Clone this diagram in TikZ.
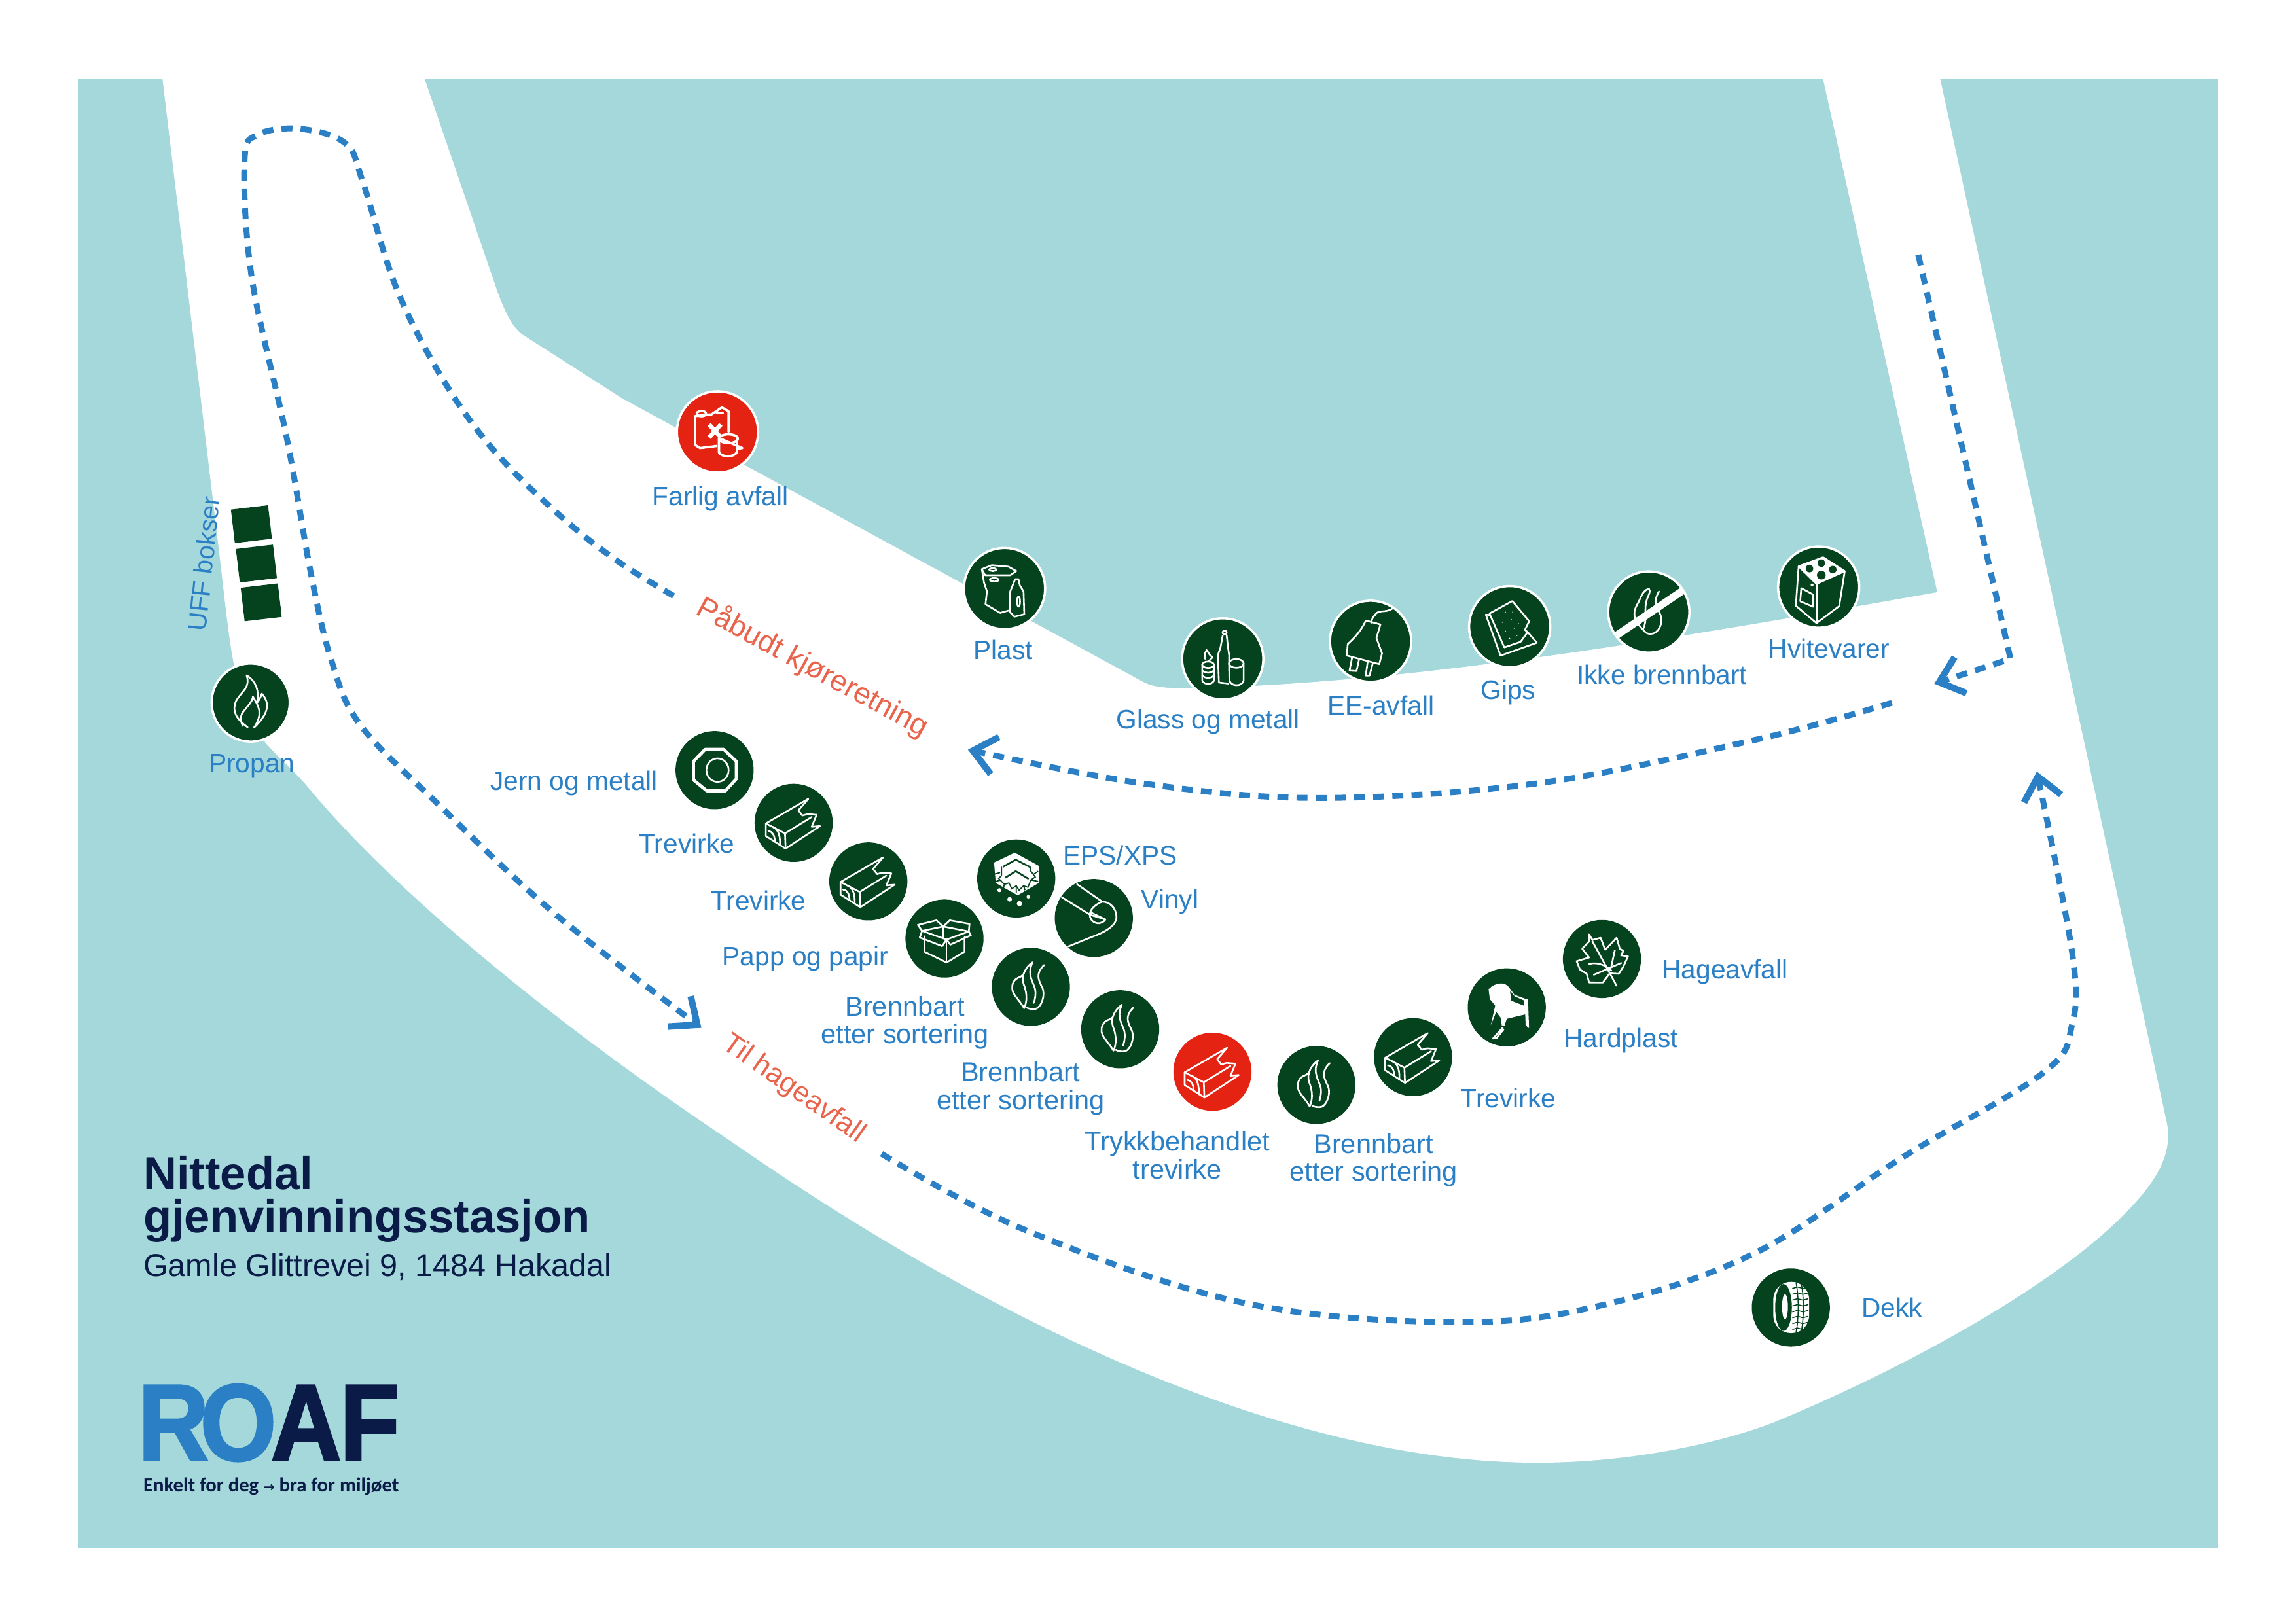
\documentclass[tikz,border=0pt]{standalone}
\usepackage{fontspec}
\setmainfont{Liberation Sans}
\newfontfamily\tagfont{Carlito}
\newfontfamily\arrowfont{DejaVu Sans}
\newfontfamily\logofont[FakeBold=2,FakeStretch=0.9]{Liberation Sans Bold}
\usetikzlibrary{arrows.meta,positioning}
\definecolor{myteal}{HTML}{A5D8DB}
\definecolor{mygreen}{HTML}{04431D}
\definecolor{myred}{HTML}{E52313}
\definecolor{myblue}{HTML}{2A7FC5}
\definecolor{mynavy}{HTML}{0B1B47}
\definecolor{mycoral}{HTML}{E8644C}
\tikzset{
    wastedot/.style={circle, fill=mygreen, minimum size=10.1mm, inner sep=0pt},
    hazdot/.style={wastedot, fill=myred},
    ringed/.style={draw=white, line width=0.3mm, minimum size=10.5mm},
    uffbox/.style={rectangle, fill=mygreen, minimum width=4.83mm, minimum height=4.36mm, inner sep=0pt, rotate=6.7},
    wastetwo/.style={text=myblue, font=\fontsize{10}{10.2}\selectfont, align=center, inner sep=0pt},
    wastelabel/.style={wastetwo, font=\fontsize{9.8}{10.2}\selectfont, text height=7pt, text depth=0pt},
    signtext/.style={text=mycoral, inner sep=0pt},
    route/.style={myblue, line width=0.76mm, dash pattern=on 1.42mm off 1.06mm,
        -{Straight Barb[length=2.9mm,width=4.9mm,line width=0.85mm]}},
    iconline/.style={white, line width=0.22mm, line join=round, line cap=round},
    pics/flames/.style={code={
        \draw[iconline] (-4.6,14.6) .. controls (-9,7) and (-15,4) .. (-12,-3) .. controls (-10,-7) and (-7,-6) .. (-5.7,-8);
        \draw[iconline] (-4.6,14.6) .. controls (-2,9) and (-3,3) .. (-5,-2) .. controls (-7,-8) and (-3,-14) .. (1.1,-16.7);
        \draw[iconline] (1.1,-16.7) .. controls (-2,-10) and (0,-6) .. (2,-1) .. controls (4,3) and (3,8) .. (2,11);
        \draw[iconline] (9.1,-14.9) .. controls (3,-9) and (5,-5) .. (8,1) .. controls (10,6) and (7,14) .. (3.4,15) .. controls (1,15.4) and (-2,15) .. (-3,14);
    }},
    pics/fire/.style={code={
        \draw[iconline] (-2,17) .. controls (-10,11) and (-13,6) .. (-10,-1) .. controls (-6,-8) and (0,-10) .. (-2.8,-18.6) .. controls (3,-15) and (6,-9) .. (4.5,0) .. controls (6,-2) and (7,-4) .. (7.6,-6) .. controls (13,0) and (13,7) .. (2.4,17);
        \draw[iconline] (-5.5,16) .. controls (-8,10) and (-6,7) .. (-4,5) .. controls (-2,2) and (1,0) .. (1.5,-4) .. controls (5,2) and (9,7) .. (2.4,17);
    }},
    pics/timber/.style={code={
        \draw[iconline] (-19,0.4) -- (10,-16.4) -- (3.2,-8.5) -- (6,-5) -- (9.6,-6) -- (15.7,-5.5) -- (12.3,2.7) -- (18,2.2) -- (-5.5,17.6) -- (-19,9) -- cycle;
        \draw[iconline] (-19,0.4) -- (-5.9,7.2) -- (-5.5,17.6);
        \draw[iconline] (-5.9,7.2) -- (12.3,-4);
        \draw[iconline] (-17.3,5.6) .. controls (-14,6) and (-13,9) .. (-12.8,13);
        \draw[iconline] (-13.9,2.7) .. controls (-10,5) and (-9,10) .. (-9.4,15.4);
    }},
    pics/nut/.style={code={
        \draw[iconline, line width=0.4mm] (-6.4,-14.2) -- (6.2,-14.2) -- (14.8,-6) -- (14.8,6) -- (7.3,14.2) -- (-5.2,14.2) -- (-14.4,6.7) -- (-14.4,-6) -- cycle;
        \draw[iconline] (2,0) ellipse (7.6 and 8);
    }},
    pics/carton/.style={code={
        \draw[iconline] (-13.7,-1.5) -- (-13.7,9) -- (1.4,16.4) -- (13.7,9) -- (13.7,-1);
        \draw[iconline] (1.4,0.7) -- (1.4,16.4);
        \draw[iconline] (-15.3,-5.2) -- (-0.9,-8.2) -- (16.6,-4.8) -- (1.4,0.7) -- cycle;
        \draw[iconline] (-0.9,-8.2) -- (-0.9,0);
        \draw[iconline] (-15.3,-5.2) -- (-18.2,-9.3) -- (-5.5,-12.4) -- (-0.9,-8.2) -- (3.6,-12.4) -- (17.1,-10) -- (16.6,-4.8);
        \draw[iconline] (-15.3,-5.2) -- (-16.9,-0.7) -- (-1.6,5.2) -- (1.4,0.7) -- (4,4.2) -- (18,-2.2) -- (16.6,-4.8);
    }},
    pics/foam/.style={code={
        \fill[white] (-15.1,-10.9) -- (-1,-17.6) -- (15.4,-8.6) -- (15.4,3) -- (1,11.5) -- (-14,3) -- cycle;
        \draw[mygreen, line width=0.22mm] (-9,-8) -- (-0.3,-12.8) -- (9.5,-7.8);
        \draw[mygreen, line width=0.22mm] (-7.5,-0.5) -- (-0.3,-5) -- (8.5,0.3);
        \draw[mygreen, line width=0.15mm] (-10,-8) -- (-10,-2) -- (-12,0) -- (-8,4) -- (-5,3) -- (-3,7) -- (0,5) -- (2,8) -- (5,5) -- (8,6) -- (10,1) -- (13,-1) -- (10,-5) -- (10,-8);
        \draw[mygreen, line width=0.15mm] (-15,-3) -- (-11,-4) (-14,2) -- (-10,1) (-8,4) -- (-9,7) (0,5) -- (0,10) (5,5) -- (6,8) (10,1) -- (15,2) (12,-3) -- (15,-5);
        \fill[white] (-11.5,8) circle (1.4) (-4.5,14.2) circle (1.6) (2.2,17.1) circle (1.8) (8.2,12.5) circle (1.2);
    }},
    pics/rollmat/.style={code={
        \draw[iconline] (-17.4,19.4) -- (4.2,10.7) .. controls (12,7) and (16,3) .. (15.4,-1.5) .. controls (15,-7) and (11,-11) .. (5.7,-11.2) -- (-11.5,-23.1);
        \draw[iconline] (-21.9,-14.2) -- (-2.5,-2.2) -- (7.9,1) .. controls (6,4) and (2,4.5) .. (-1,2) .. controls (-4,-1) and (-4,-7) .. (5.7,-11.2);
        \draw[iconline] (-2.5,-4) -- (7.9,1);
    }},
    pics/chair/.style={code={
        \fill[white, even odd rule] (-12.4,-12.4) .. controls (-8,-17) and (-1,-18) .. (2,-13) -- (5.2,-8.6) -- (13,-5.7) -- (14.5,-5.7) -- (15.2,14.2) -- (12.9,12.3) -- (12.6,4.8) -- (0,7.8) -- (-1.5,12.3) -- (-3.4,12.3) -- (-4.2,7) -- (-7.2,3) -- (-10.9,12.2) -- (-7.9,-1.2) -- (-11.6,-5.7) -- cycle
            (2.2,-11.5) -- (3,-4.5) -- (12,-1) -- (12,-4.6) -- (5.5,-7.5) -- cycle
            (-9.8,-8.5) -- (-7.3,-3.3) -- (-9,-7) -- cycle;
        \draw[iconline] (-2.7,13.8) -- (-9.4,21.3) -- (-7,21) -- (-2.2,15);
    }},
    pics/mapleleaf/.style={code={
        \draw[iconline] (-8.8,-16.8) -- (-6.5,-13) -- (-0.9,-14.5) -- (2.2,-6.3) -- (10,-14.5) -- (12.2,-7) -- (14.7,-5.5) -- (13,-2.5) -- (17.8,-1.8) -- (14.7,5) -- (11.5,10.1) -- (5.3,9.8) -- (0.6,16.1) -- (-8.8,16) -- (-10.4,10.1) -- (-15,7.2) -- (-17.3,1.5) -- (-8.8,-1) -- (-13.5,-7) -- (-8.8,-12) -- cycle;
        \draw[iconline] (-6.6,-12.2) -- (10,18.3);
        \draw[iconline] (8.8,-6) -- (6.3,5.5);
        \draw[iconline] (-8.8,3.4) .. controls (-3,2) and (2,4) .. (6.5,8);
        \draw[iconline] (-5.6,10.8) -- (13.2,2.7);
    }},
    pics/tyre/.style={code={
        \fill[white, rounded corners=6.5] (-12,-17.5) -- (-12,17.5) -- (12.5,17.5) -- (12.5,-17.5) -- cycle;
        \fill[mygreen] (-5,0) ellipse (5.7 and 16);
        \fill[white] (-4,-0.5) ellipse (2 and 8.6);
        \draw[mygreen, line width=0.13mm] (3.5,-17) .. controls (5.5,-8) and (5.5,8) .. (3.5,17);
        \draw[mygreen, line width=0.13mm] (7,-17) .. controls (9,-8) and (9,8) .. (7,17);
        \foreach \yy in {-14,-10,-6,-2,2,6,10,14}
            \draw[mygreen, line width=0.13mm] (1,\yy+1) -- (4.6,\yy) -- (8.2,\yy+1) -- (12,\yy);
    }},
    pics/cooker/.style={code={
        \draw[iconline] (-13.7,-14.2) -- (3,-20.4) -- (17.8,-10.9) -- (14,13) -- (-1.5,24.6) -- (-15.6,12.7) -- cycle;
        \fill[white] (-13.7,-14.2) -- (3,-20.4) -- (17.8,-10.9) -- (-1.5,-2.2) -- cycle;
        \draw[iconline] (-13.7,-14.2) -- (-1.5,-2.2) -- (17.8,-10.9);
        \draw[iconline] (-1.5,-2.2) -- (-1.5,24.6);
        \fill[mygreen] (-6.3,-12.7) circle (2.6) (1.8,-16.4) circle (2.6) (9.6,-12) circle (2.6) (1.8,-8.2) circle (3);
        \draw[iconline] (-11.9,0.7) -- (-4,5) -- (-3.7,13.4) -- (-12.6,9.7) -- cycle;
        \fill[white] (-4.5,-1.5) circle (1);
    }},
    pics/noburn/.style={code={
        \draw[iconline] (-4,12) .. controls (-9,7) and (-12,2) .. (-8,-5) .. controls (-5,-10) and (-5,-14) .. (0,-16);
        \draw[iconline] (-4,12) .. controls (-1,6) and (-3,0) .. (-2,-6) .. controls (-1,-11) and (2,-14) .. (0,-16);
        \draw[iconline] (7,-14) .. controls (3,-8) and (5,-4) .. (8,2) .. controls (10,7) and (7,15) .. (1,15) .. controls (-2,15) and (-3,13) .. (-4,12);
        \draw[white, line width=0.95mm] (-22.8,16.5) -- (23,-14.5);
    }},
    pics/plaster/.style={code={
        \draw[iconline] (-13.8,-9) -- (1.8,-17.5) -- (13.3,-3.7) -- (10.4,2.2) -- (12.3,3.7) -- (7.4,10.4) -- (-3.7,14.2) -- cycle;
        \draw[iconline] (-13.8,-8) -- (-16.3,-8.2) -- (-6.3,19.8) -- (18.5,11) -- (12.3,3.7);
        \fill[white] (-8,-8) circle (0.4) (-3,-10) circle (0.4) (2,-10) circle (0.4) (-5,-3) circle (0.4) (1,-5) circle (0.4) (6,-2) circle (0.4) (-3,3) circle (0.4) (3,1) circle (0.4) (0,8) circle (0.4) (5,6) circle (0.4);
    }},
    pics/plug/.style={code={
        \draw[iconline] (15,-22.4) .. controls (10,-19) and (5,-22) .. (3,-18) .. controls (1,-16) and (1,-15) .. (0.4,-12.5);
        \draw[iconline] (-3.3,-14.2) -- (6.7,-11.5) -- (4,-2.2) -- (7.8,8.2) -- (5.9,15.6) -- (-16.3,9.7) -- (-15.6,1.9) .. controls (-9,-4) and (-5,-10) .. (-3.3,-14.2);
        \draw[iconline] (-12.6,11) -- (-14.4,20) -- (-9.6,20.3) -- (-7.9,12.5);
        \draw[iconline] (-2,14) -- (-3.3,23.4) -- (-0.7,23.4) -- (1.5,14.9);
    }},
    pics/bottles/.style={code={
        \draw[iconline] (0,-16) -- (-1.5,-7.8) -- (-3.3,-2.5) -- (-2.6,16.2) -- (4,16.9);
        \draw[iconline] (4.4,3) -- (4.4,-2.5) -- (3.6,-7.8) -- (2.7,-16);
        \draw[iconline] (1.3,-18) circle (1.4);
        \draw[iconline] (9.3,3.1) ellipse (5 and 3);
        \draw[iconline] (4.3,3.1) -- (4.6,15) .. controls (6,19) and (13,19) .. (14.3,15) -- (14.3,3.1);
        \draw[iconline] (-10,4) ellipse (4 and 2.2);
        \draw[iconline] (-14,4) -- (-14,15) .. controls (-12,18) and (-8,18) .. (-6,15) -- (-6,4);
        \draw[iconline] (-14,8) .. controls (-12,10) and (-8,10) .. (-6,8) (-14,11.5) .. controls (-12,13.5) and (-8,13.5) .. (-6,11.5);
        \draw[iconline] (-10,2) -- (-7,-1) -- (-9,-3) -- (-11,-6) -- (-12,-4) -- (-12,0);
    }},
    pics/bagbottle/.style={code={
        \draw[iconline] (-15.5,-13.3) -- (-8.7,-16) -- (2.7,-15) -- (8,-12) -- (3.9,-9.1) -- (-13.2,-9.1) -- cycle;
        \draw[iconline] (-15.5,-13.3) -- (-14,-4) -- (-12,2) -- (-13,10.7) -- (-3,16.6) -- (3.2,14.9);
        \draw[iconline] (-8,-13) ellipse (2.5 and 1) (-7,-6) ellipse (3 and 1.2);
        \draw[iconline] (7.3,-6.5) -- (5.5,-2) -- (3.9,2) -- (3.4,15.7) -- (6.8,19.2) -- (13.5,17.5) -- (13,2) -- (10.5,-2) -- (9.5,-6.5) -- cycle;
        \draw[iconline] (9.6,8.9) ellipse (1 and 3.5);
    }},
    pics/canister/.style={code={
        \draw[iconline, line width=0.3mm] (-15.3,-10.8) -- (-15.3,8.9) -- (-11.9,11) -- (-0.5,9.6);
        \draw[iconline, line width=0.3mm] (-15.3,-10.8) -- (-4,-12) -- (3,-16.8) -- (7.5,-14.2) -- (7.5,0);
        \draw[iconline, line width=0.3mm] (-11,-12.5) ellipse (3.2 and 1.8);
        \draw[iconline, line width=0.3mm] (-0.5,-13) -- (3.5,-13);
        \draw[white, line width=0.55mm] (-5.7,-5.1) -- (2.3,3.8) (2.3,-5.1) -- (-5.7,3.8);
        \draw[iconline, line width=0.3mm] (7.5,4.6) ellipse (6.5 and 3);
        \draw[iconline, line width=0.3mm] (1,4.6) -- (1,14) .. controls (3,17.5) and (11,17.5) .. (13.2,14) -- (13.2,5);
        \draw[iconline, line width=0.3mm] (3,5) -- (17,11) -- (13.2,11.5);
    }},
}
\begin{document}
\begin{tikzpicture}[x=0.18941mm, y=-0.18941mm]
    \useasboundingbox (0,0) rectangle (1568,1108.5);
    \fill[myteal] (53,54) rectangle (1515,1057);
    \fill[white] (111,54) -- (150,380) .. controls (156,430) and (158,460) .. (170,490)
        .. controls (178,508) and (195,520) .. (209,536)
        .. controls (270,610) and (380,700) .. (500,780)
        .. controls (680,905) and (880,999) .. (1050,999)
        .. controls (1110,999) and (1170,987) .. (1210,972)
        .. controls (1300,935) and (1400,880) .. (1450,830)
        .. controls (1470,810) and (1484,790) .. (1480,768)
        -- (1325,54) -- (1245,54) -- (1323,404.5)
        .. controls (1150,435) and (960,468) .. (808,470)
        .. controls (795,470) and (788,469) .. (782,466.5)
        -- (424.7,272) -- (356,228)
        .. controls (349,222) and (345,213) .. (340,200) -- (290,54) -- cycle;

    \coordinate (loopstart) at (460,407);
    \coordinate (loopend) at (479,702);
    \coordinate (gardenstart) at (602,788);
    \coordinate (gardenend) at (1391,527);
    \coordinate (backstart) at (1292,480);
    \coordinate (backend) at (661,512);
    \coordinate (entrystart) at (1310,174);
    \coordinate (entrybend) at (1373,450);
    \coordinate (entryend) at (1321,467);

    \draw[route] plot[smooth, tension=0.6] coordinates {(loopstart) (420,382) (380,350) (335,305) (300,255) (270,195) (248,125) (236,98) (205,88) (176,92) (167,110) (172,190) (196,300) (212,390) (226,450) (246,495) (300,550) (380,625) (loopend)};
    \draw[route] plot[smooth, tension=0.6] coordinates {(gardenstart) (700,840) (850,890) (1000,903) (1100,890) (1200,855) (1300,790) (1395,733) (1415,700) (1415,650) (gardenend)};
    \draw[route] plot[smooth, tension=0.6] coordinates {(backstart) (1200,505) (1050,535) (900,545) (780,535) (backend)};
    \draw[route] (entrystart) -- (entrybend) -- (entryend);

    \node[uffbox] (box1) at (171.7,358) {};
    \node[uffbox] (box2) at (175.1,384.9) {};
    \node[uffbox] (box3) at (178.4,411.4) {};

    \node[hazdot, ringed] (farlig) at (490,295) {};
    \node[wastedot, ringed] (plast) at (686,402) {};
    \node[wastedot, ringed] (glass) at (835,450) {};
    \node[wastedot, ringed] (ee) at (936,438) {};
    \node[wastedot, ringed] (gips) at (1031,428) {};
    \node[wastedot, ringed] (ikke) at (1126,418) {};
    \node[wastedot, ringed] (hvite) at (1242,401) {};
    \node[wastedot, ringed, minimum size=10.1mm] (propan) at (171.2,479.8) {};
    \node[wastedot] (jern) at (488,526) {};
    \node[wastedot] (tre1) at (542,562) {};
    \node[wastedot] (tre2) at (593,602) {};
    \node[wastedot] (papp) at (645,641) {};
    \node[wastedot] (eps) at (694,600) {};
    \node[wastedot] (vinyl) at (747,627) {};
    \node[wastedot] (brenn1) at (704,674) {};
    \node[wastedot] (brenn2) at (765,703) {};
    \node[hazdot] (trykk) at (828,732) {};
    \node[wastedot] (brenn3) at (899,741) {};
    \node[wastedot] (tre3) at (965,722) {};
    \node[wastedot] (hard) at (1029,688) {};
    \node[wastedot] (hage) at (1094,655) {};
    \node[wastedot] (dekk) at (1223,893) {};

    \pic at (farlig) {canister};
    \pic at (plast) {bagbottle};
    \pic at (glass) {bottles};
    \pic at (ee) {plug};
    \pic at (gips) {plaster};
    \pic at (ikke) {noburn};
    \pic at (hvite) {cooker};
    \pic at (propan) {fire};
    \pic at (jern) {nut};
    \pic at (tre1) {timber};
    \pic at (tre2) {timber};
    \pic at (papp) {carton};
    \pic at (eps) {foam};
    \pic at (vinyl) {rollmat};
    \pic at (brenn1) {flames};
    \pic at (brenn2) {flames};
    \pic at (trykk) {timber};
    \pic at (brenn3) {flames};
    \pic at (tre3) {timber};
    \pic at (hard) {chair};
    \pic at (hage) {mapleleaf};
    \pic at (dekk) {tyre};

    \node[wastelabel] (farliglabel) at (492,339) {Farlig avfall};
    \node[wastelabel] (plastlabel) at (685,444) {Plast};
    \node[wastelabel] (glasslabel) at (825,491) {Glass og metall};
    \node[wastelabel] (eelabel) at (943,482) {EE-avfall};
    \node[wastelabel] (gipslabel) at (1030,471) {Gips};
    \node[wastelabel] (ikkelabel) at (1135,461) {Ikke brennbart};
    \node[wastelabel] (hvitelabel) at (1249,443) {Hvitevarer};
    \node[wastelabel] (propanlabel) at (172,521) {Propan};
    \node[wastelabel, rotate=84, font=\fontsize{9.5}{11}\selectfont] (ufflabel) at (139,385) {UFF bokser};
    \node[wastelabel] (jernlabel) at (392,533) {Jern og metall};
    \node[wastelabel] (tre1label) at (469,576) {Trevirke};
    \node[wastelabel] (tre2label) at (518,615) {Trevirke};
    \node[wastelabel] (papplabel) at (550,653) {Papp og papir};
    \node[wastelabel] (epslabel) at (765,584) {EPS/XPS};
    \node[wastelabel] (vinyllabel) at (799,614) {Vinyl};
    \node[wastetwo] (brenn1label) at (618,698.5) {Brennbart\\etter sortering};
    \node[wastetwo] (brenn2label) at (697,743.5) {Brennbart\\etter sortering};
    \node[wastetwo] (trykklabel) at (804,789) {Trykkbehandlet\\trevirke};
    \node[wastetwo] (brenn3label) at (938,792.5) {Brennbart\\etter sortering};
    \node[wastelabel] (tre3label) at (1030,750) {Trevirke};
    \node[wastelabel] (hardlabel) at (1107,709) {Hardplast};
    \node[wastelabel] (hagelabel) at (1178,662) {Hageavfall};
    \node[wastelabel] (dekklabel) at (1292,893) {Dekk};

    \node[signtext, rotate=-28.5, font=\fontsize{10.9}{13}\selectfont] (paabudt) at (555,456) {Påbudt kjøreretning};
    \node[signtext, rotate=-35, font=\fontsize{10.5}{13}\selectfont] (tilhage) at (542,744) {Til hageavfall};

    \node[anchor=base west, inner sep=0pt, text=mynavy, font=\fontsize{17}{20}\bfseries\selectfont] (title1) at (97.6,812.5) {Nittedal};
    \node[anchor=base west, inner sep=0pt, text=mynavy, font=\fontsize{17}{20}\bfseries\selectfont] (title2) at (97.6,842) {gjenvinningsstasjon};
    \node[anchor=base west, inner sep=0pt, text=mynavy, font=\fontsize{11.7}{14}\selectfont] (address) at (97.6,872) {Gamle Glittrevei 9, 1484 Hakadal};
    \node[anchor=base west, inner sep=0pt, font=\fontsize{40}{44}\logofont\selectfont] (logo) at (94,997.3)
        {\textcolor{myblue}{R\kern-3.2ptO}\kern-2pt\textcolor{mynavy}{A\kern-0.6ptF}};
    \node[anchor=base west, inner sep=0pt, text=mynavy, font=\fontsize{7.4}{9}\tagfont\bfseries\selectfont] (slogan) at (97.6,1019) {Enkelt for deg {\arrowfont\fontsize{5}{6}\selectfont →} bra for miljøet};
\end{tikzpicture}
\end{document}
